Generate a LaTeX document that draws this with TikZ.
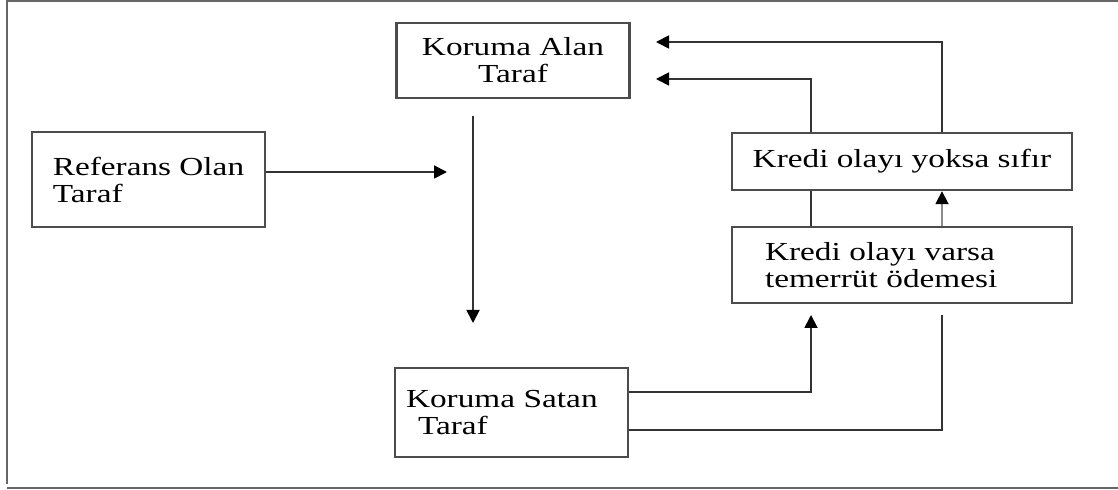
\documentclass[tikz,border=0pt]{standalone}
\usepackage{fontspec}
\setmainfont{Liberation Serif}[FakeStretch=1.28]
\usetikzlibrary{arrows.meta}

\begin{document}
\begin{tikzpicture}[
    x=0.5pt, y=-0.5pt,
    every node/.style={font=\fontsize{13}{13.5}\selectfont},
    party/.style={draw=black!70, line width=1.2pt, minimum width=116.5pt, align=left, inner sep=0pt},
    flow/.style={draw=black!80, line width=0.9pt},
    arr/.style={flow, -{Triangle[length=6.5pt,width=6.5pt,color=black]}},
]
\useasboundingbox (0,0) rectangle (1118,490);
% frame
\draw[black!60, line width=1pt] (1118,1) -- (7,1) -- (7,484);
\draw[black!60, line width=1pt] (7,488) -- (1118,488);

\node[party, align=center, minimum height=37.5pt] (alan) at (513,60.5) {Koruma Alan\\Taraf};
\node[party, minimum height=47.5pt] (ref) at (148.5,179.5) {Referans Olan\\Taraf};
\node[party, minimum height=44.5pt, text width=105.5pt, inner xsep=5.5pt] (satan) at (511.5,412.5) {Koruma Satan\\\hspace*{6pt}Taraf};
\node[party, align=center, minimum width=170pt, minimum height=28.5pt] (yoksa) at (902,161.5) {Kredi olayı yoksa sıfır};
\node[party, minimum width=170pt, minimum height=38pt, text width=137pt, inner xsep=16.5pt] (varsa) at (902,265) {Kredi olayı varsa\\temerrüt ödemesi};

\coordinate (refend) at (447,172);
\coordinate (downtop) at (473,116);
\coordinate (downend) at (473,323);
\coordinate (upend) at (811,315);
\coordinate (retend) at (942,315);
\coordinate (topend) at (656,42);
\coordinate (midend) at (656,79);

\draw[arr] (ref.east |- refend) -- (refend);
\draw[arr] (downtop) -- (downend);
\draw[arr] (satan.east |- 0,392) -| (upend);
\draw[flow] (satan.east |- 0,430) -| (retend);
\draw[arr, draw=black!45] (varsa.north -| retend) -- (yoksa.south -| retend);
\draw[flow] (yoksa.south -| upend) -- (varsa.north -| upend);
\draw[arr] (yoksa.north -| upend) |- (midend);
\draw[arr] (yoksa.north -| retend) |- (topend);
\end{tikzpicture}
\end{document}
